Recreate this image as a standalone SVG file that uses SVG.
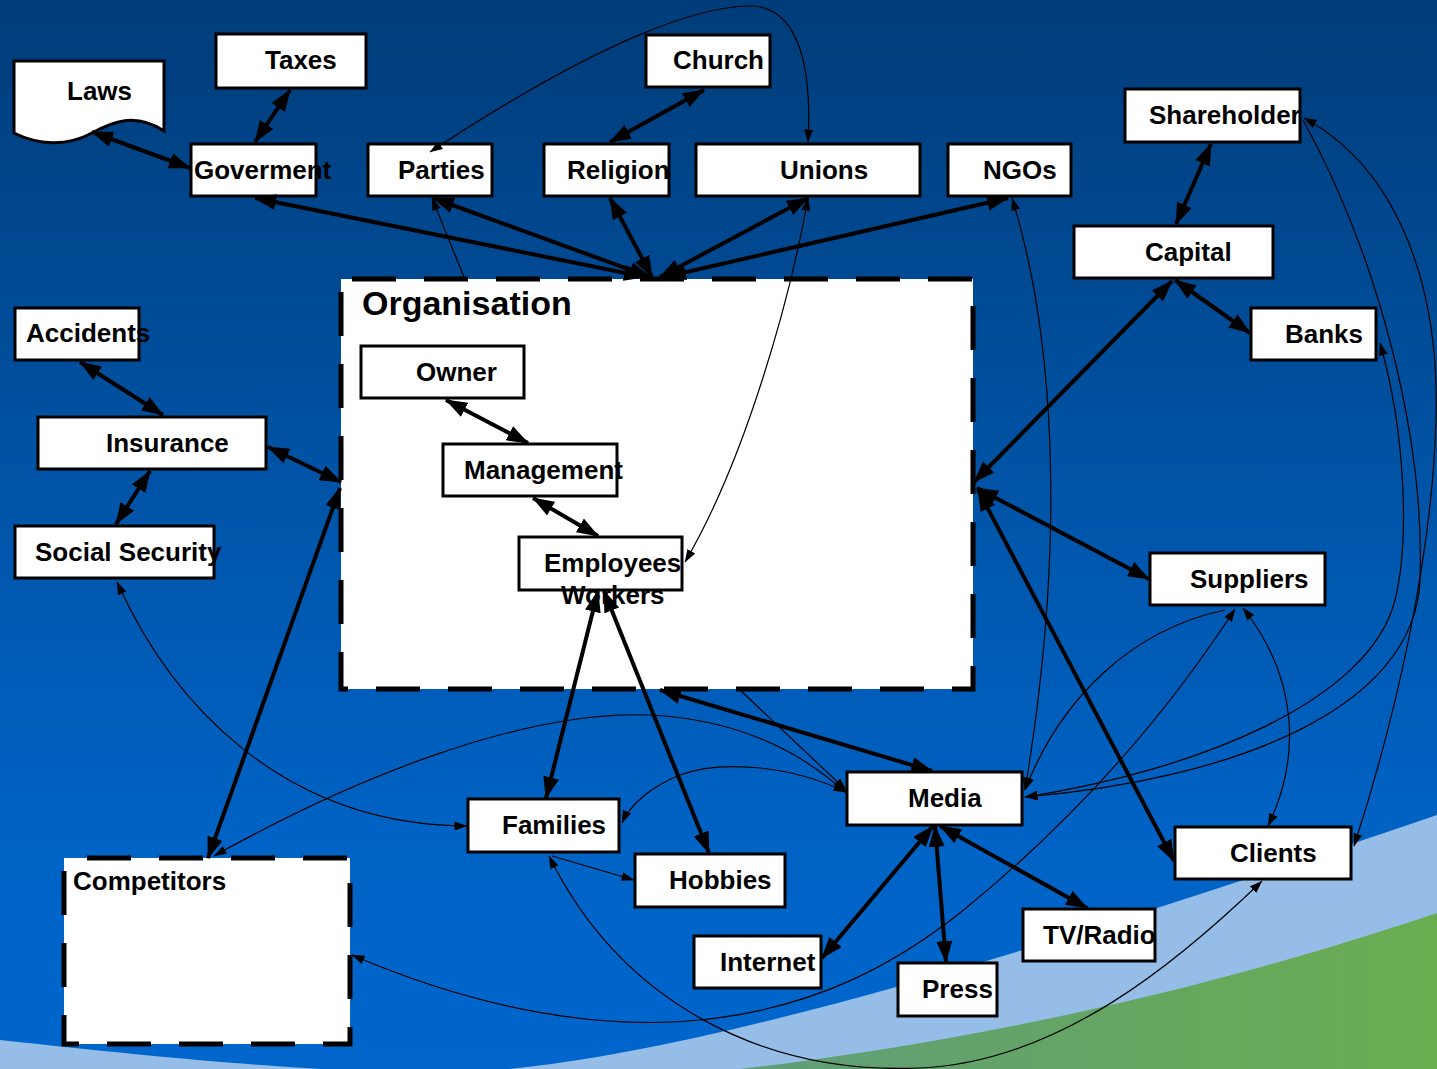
<svg xmlns="http://www.w3.org/2000/svg" width="1437" height="1069" viewBox="0 0 1437 1069">
<defs>
<linearGradient id="bg" x1="0" y1="0" x2="0" y2="1">
<stop offset="0" stop-color="#003c79"/>
<stop offset="0.5" stop-color="#0056ab"/>
<stop offset="0.8" stop-color="#0063c6"/>
<stop offset="1" stop-color="#0066cc"/>
</linearGradient>
<linearGradient id="gr" x1="0" y1="0" x2="1" y2="0">
<stop offset="0" stop-color="#5f9d78"/>
<stop offset="1" stop-color="#6aad50"/>
</linearGradient>
<marker id="ah" viewBox="0 0 22 16" refX="21" refY="8" markerWidth="22" markerHeight="16" markerUnits="userSpaceOnUse" orient="auto-start-reverse"><path d="M0,0L22,8L0,16z" fill="#000"/></marker>
<marker id="as" viewBox="0 0 13 9" refX="12.5" refY="4.5" markerWidth="13" markerHeight="9" markerUnits="userSpaceOnUse" orient="auto-start-reverse"><path d="M0,0L13,4.5L0,9z" fill="#000"/></marker>
<style>
.box{fill:#fff;stroke:#000;stroke-width:3}
.cont{fill:#fff;stroke:#000;stroke-width:5;stroke-dasharray:44 28}
.t{font-family:"Liberation Sans",Arial,sans-serif;font-weight:bold;font-size:26px;fill:#000}
.big{font-size:34px}
.thick{fill:none;stroke:#000;stroke-width:4;marker-start:url(#ah);marker-end:url(#ah)}
.thin{fill:none;stroke:#000;stroke-width:1.2;marker-start:url(#as);marker-end:url(#as)}
.thin1{fill:none;stroke:#000;stroke-width:1.2;marker-end:url(#as)}
</style>
</defs>
<g id="background">
<rect x="0" y="0" width="1437" height="1069" fill="url(#bg)"/>
<path d="M0,1040 C200,1062 350,1075 470,1072 C700,1060 1100,930 1437,815 L1437,1069 L0,1069 Z" fill="#95bde8"/>
<path d="M740,1069 C900,1050 1150,1010 1437,913 L1437,1069 Z" fill="url(#gr)"/>
</g>
<g id="organisation">
<rect class="cont" x="341" y="279" width="632" height="410" stroke-dashoffset="-11"/>
<text class="t big" x="362" y="315">Organisation</text>
</g>
<g id="competitors">
<rect class="cont" x="64" y="858" width="286" height="186" stroke-dashoffset="-23"/>
<text class="t" x="73" y="890">Competitors</text>
</g>
<g id="laws">
<path class="box" d="M14,61 L164,61 L164,131 C135,112 112,122 92,133 C66,147 38,145 14,133 Z"/>
<text class="t" x="67" y="100">Laws</text>
</g>
<g id="taxes"><rect class="box" x="216" y="34" width="150" height="54"/><text class="t" x="265" y="69">Taxes</text></g>
<g id="goverment"><rect class="box" x="191" y="144" width="125" height="52"/><text class="t" x="194" y="179">Goverment</text></g>
<g id="parties"><rect class="box" x="368" y="144" width="124" height="52"/><text class="t" x="398" y="179">Parties</text></g>
<g id="religion"><rect class="box" x="544" y="144" width="125" height="52"/><text class="t" x="567" y="179">Religion</text></g>
<g id="church"><rect class="box" x="646" y="35" width="124" height="52"/><text class="t" x="673" y="69">Church</text></g>
<g id="unions"><rect class="box" x="696" y="144" width="224" height="52"/><text class="t" x="780" y="179">Unions</text></g>
<g id="ngos"><rect class="box" x="948" y="144" width="123" height="52"/><text class="t" x="983" y="179">NGOs</text></g>
<g id="shareholder"><rect class="box" x="1125" y="89" width="175" height="53"/><text class="t" x="1149" y="124">Shareholder</text></g>
<g id="capital"><rect class="box" x="1074" y="226" width="199" height="52"/><text class="t" x="1145" y="261">Capital</text></g>
<g id="banks"><rect class="box" x="1251" y="308" width="125" height="52"/><text class="t" x="1285" y="343">Banks</text></g>
<g id="accidents"><rect class="box" x="15" y="308" width="124" height="52"/><text class="t" x="26" y="342">Accidents</text></g>
<g id="insurance"><rect class="box" x="38" y="417" width="228" height="52"/><text class="t" x="106" y="452">Insurance</text></g>
<g id="social-security"><rect class="box" x="15" y="526" width="199" height="52"/><text class="t" x="35" y="561">Social Security</text></g>
<g id="owner"><rect class="box" x="361" y="346" width="163" height="52"/><text class="t" x="416" y="381">Owner</text></g>
<g id="management"><rect class="box" x="443" y="444" width="174" height="52"/><text class="t" x="464" y="479">Management</text></g>
<g id="employees"><rect class="box" x="519" y="537" width="163" height="53"/><text class="t" x="544" y="572">Employees</text><text class="t" x="561" y="604">Workers</text></g>
<g id="suppliers"><rect class="box" x="1150" y="553" width="175" height="52"/><text class="t" x="1190" y="588">Suppliers</text></g>
<g id="media"><rect class="box" x="847" y="772" width="175" height="53"/><text class="t" x="908" y="807">Media</text></g>
<g id="clients"><rect class="box" x="1175" y="827" width="176" height="52"/><text class="t" x="1230" y="862">Clients</text></g>
<g id="families"><rect class="box" x="468" y="799" width="151" height="53"/><text class="t" x="502" y="834">Families</text></g>
<g id="hobbies"><rect class="box" x="635" y="854" width="150" height="53"/><text class="t" x="669" y="889">Hobbies</text></g>
<g id="internet"><rect class="box" x="694" y="936" width="127" height="52"/><text class="t" x="720" y="971">Internet</text></g>
<g id="press"><rect class="box" x="898" y="963" width="99" height="53"/><text class="t" x="922" y="998">Press</text></g>
<g id="tv-radio"><rect class="box" x="1023" y="909" width="132" height="52"/><text class="t" x="1043" y="944">TV/Radio</text></g>
<g id="connectors">
<path class="thick" d="M92,132 L190,168"/>
<path class="thick" d="M290,90 L255,142"/>
<path class="thick" d="M704,90 L610,142"/>
<path class="thick" d="M255,198 L645,277"/>
<path class="thick" d="M433,198 L650,277"/>
<path class="thick" d="M610,198 L652,277"/>
<path class="thick" d="M808,198 L660,277"/>
<path class="thick" d="M1008,198 L665,277"/>
<path class="thick" d="M1211,144 L1176,224"/>
<path class="thick" d="M1175,280 L1250,333"/>
<path class="thick" d="M1172,281 L974,482"/>
<path class="thick" d="M977,488 L1149,579"/>
<path class="thick" d="M978,490 L1174,861"/>
<path class="thick" d="M80,362 L163,415"/>
<path class="thick" d="M268,447 L341,482"/>
<path class="thick" d="M150,471 L116,524"/>
<path class="thick" d="M340,488 L208,858"/>
<path class="thick" d="M446,400 L528,443"/>
<path class="thick" d="M533,498 L598,536"/>
<path class="thick" d="M598,591 L546,798"/>
<path class="thick" d="M604,591 L709,853"/>
<path class="thick" d="M660,690 L932,771"/>
<path class="thick" d="M933,826 L822,958"/>
<path class="thick" d="M935,826 L946,962"/>
<path class="thick" d="M940,826 L1087,908"/>
<path class="thin" d="M430,152 C600,40 700,5 752,6 C800,8 812,70 808,142"/>
<path class="thin1" d="M464,277 L432,198"/>
<path class="thin" d="M808,198 C790,300 745,460 685,562"/>
<path class="thin" d="M1012,198 C1050,320 1070,520 1025,790"/>
<path class="thin" d="M1304,118 C1400,170 1440,290 1436,420 C1432,560 1395,720 1354,846"/>
<path class="thin1" d="M1303,120 C1380,260 1425,440 1420,580 C1415,710 1230,780 1025,797"/>
<path class="thin" d="M1380,343 C1405,430 1410,540 1395,600 C1370,700 1200,770 1025,797"/>
<path class="thin1" d="M1225,610 C1130,630 1060,700 1025,790"/>
<path class="thin" d="M1243,608 C1300,680 1300,760 1268,826"/>
<path class="thin" d="M352,955 C480,1010 600,1030 700,1020 C820,1008 900,960 960,913 C1050,840 1150,740 1235,609"/>
<path class="thin" d="M214,856 C350,780 520,710 650,715 C750,720 810,760 846,793"/>
<path class="thin1" d="M740,690 L846,790"/>
<path class="thin" d="M846,792 C790,765 720,760 680,775 C650,787 630,805 622,823"/>
<path class="thin" d="M117,582 C170,700 280,825 467,826"/>
<path class="thin1" d="M552,856 L634,880"/>
<path class="thin" d="M549,856 C620,1000 760,1075 920,1068 C1060,1062 1180,960 1262,881"/>
</g>
</svg>
